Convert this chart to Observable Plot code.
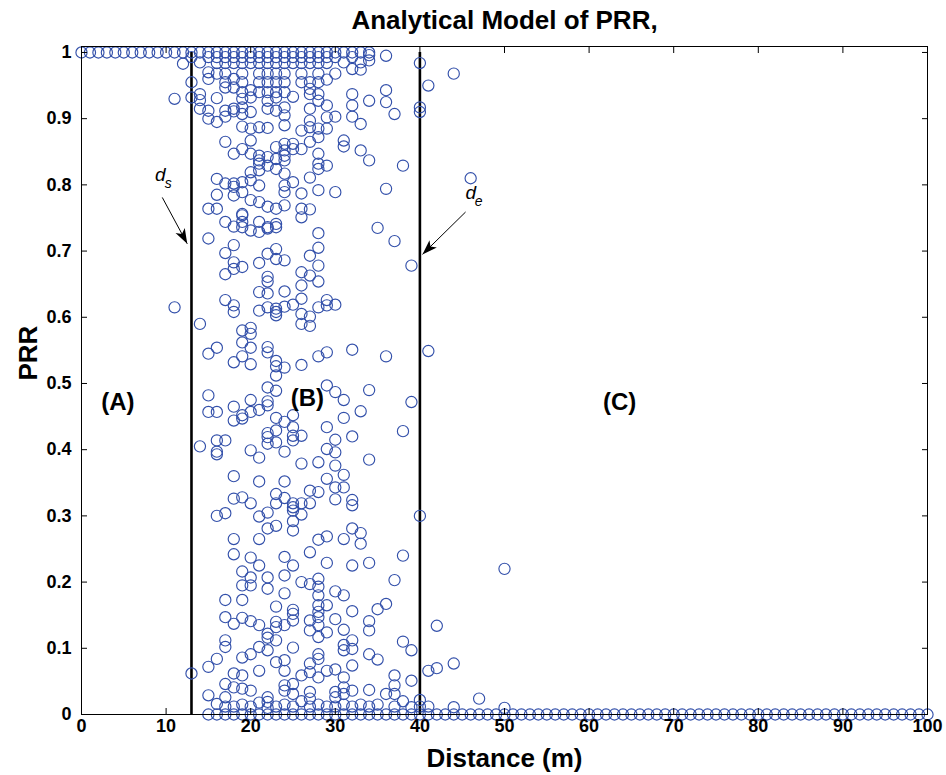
<!DOCTYPE html>
<html><head><meta charset="utf-8">
<script src="https://cdn.jsdelivr.net/npm/d3@7"></script>
<script src="https://cdn.jsdelivr.net/npm/@observablehq/plot@0.6"></script>
<style>body{margin:0;background:#fff;} #chart{width:946px;height:775px;}</style>
</head><body><div id="chart"></div>
<script>
// ---- data ----
const titleText = "Analytical Model of PRR,";
const xLabel = "Distance (m)";
const yLabel = "PRR";
const xTicks = [0, 10, 20, 30, 40, 50, 60, 70, 80, 90, 100];
const yTicks = [0, 0.1, 0.2, 0.3, 0.4, 0.5, 0.6, 0.7, 0.8, 0.9, 1];
const yTickLabels = ["0", "0.1", "0.2", "0.3", "0.4", "0.5", "0.6", "0.7", "0.8", "0.9", "1"];

// distances where PRR = 1
const prrOneDistances = [0,1,2,3,4,5,6,7,8,9,10,11,12,13,14,15,16,17,18,19,20,21,22,23,24,25,26,27,28,29,30,31,32,33,34];
// distances where PRR = 0
const prrZeroDistances = [15,16,17,18,19,20,21,22,23,24,25,26,27,28,29,30,31,32,33,34,35,36,37,38,39,40,41,42,43,44,45,46,47,48,49,50,51,52,53,54,55,56,57,58,59,60,61,62,63,64,65,66,67,68,69,70,71,72,73,74,75,76,77,78,79,80,81,82,83,84,85,86,87,88,89,90,91,92,93,94,95,96,97,98,99,100];

// other PRR samples per distance
const prr11 = [0.93, 0.615];
const prr12 = [0.983];
const prr13 = [0.993, 0.955, 0.932, 0.062];
const prr14 = [0.985, 0.937, 0.928, 0.915, 0.59, 0.405];
const prr15 = [0.993, 0.970, 0.960, 0.912, 0.900, 0.764, 0.719, 0.545, 0.482, 0.457, 0.072, 0.029];
const prr16 = [0.993, 0.984, 0.968, 0.931, 0.895, 0.809, 0.785, 0.764, 0.554, 0.457, 0.414, 0.397, 0.393, 0.300, 0.084, 0.016];
const prr17 = [0.993, 0.984, 0.968, 0.955, 0.947, 0.912, 0.903, 0.865, 0.802, 0.744, 0.697, 0.665, 0.626, 0.414, 0.304, 0.173, 0.147, 0.112, 0.102, 0.046, 0.026, 0.012];
const prr18 = [0.993, 0.984, 0.960, 0.947, 0.915, 0.911, 0.847, 0.802, 0.797, 0.784, 0.737, 0.709, 0.683, 0.673, 0.618, 0.608, 0.532, 0.465, 0.444, 0.360, 0.326, 0.265, 0.242, 0.137, 0.062, 0.041, 0.012];
const prr19 = [0.993, 0.984, 0.968, 0.955, 0.940, 0.930, 0.917, 0.907, 0.888, 0.854, 0.804, 0.789, 0.756, 0.754, 0.744, 0.736, 0.676, 0.580, 0.562, 0.541, 0.452, 0.447, 0.328, 0.216, 0.195, 0.173, 0.146, 0.086, 0.059, 0.039, 0.015];
const prr20 = [0.993, 0.984, 0.943, 0.932, 0.910, 0.885, 0.867, 0.847, 0.819, 0.807, 0.777, 0.731, 0.584, 0.575, 0.554, 0.529, 0.475, 0.457, 0.399, 0.319, 0.237, 0.207, 0.195, 0.141, 0.091, 0.036, 0.012];
const prr21 = [0.993, 0.984, 0.968, 0.955, 0.940, 0.887, 0.844, 0.837, 0.832, 0.822, 0.799, 0.774, 0.744, 0.729, 0.682, 0.638, 0.610, 0.460, 0.388, 0.352, 0.299, 0.265, 0.225, 0.135, 0.102, 0.066, 0.018];
const prr22 = [0.993, 0.984, 0.968, 0.955, 0.940, 0.927, 0.915, 0.886, 0.842, 0.829, 0.767, 0.736, 0.734, 0.696, 0.661, 0.654, 0.636, 0.615, 0.555, 0.547, 0.494, 0.473, 0.467, 0.425, 0.419, 0.409, 0.305, 0.281, 0.207, 0.190, 0.122, 0.116, 0.097, 0.026, 0.019, 0.010];
const prr23 = [0.993, 0.984, 0.968, 0.955, 0.940, 0.932, 0.912, 0.857, 0.839, 0.824, 0.764, 0.741, 0.736, 0.703, 0.688, 0.613, 0.608, 0.603, 0.534, 0.526, 0.512, 0.489, 0.448, 0.429, 0.411, 0.333, 0.319, 0.285, 0.163, 0.140, 0.132, 0.112, 0.079, 0.012];
const prr24 = [0.993, 0.984, 0.968, 0.955, 0.940, 0.917, 0.905, 0.890, 0.862, 0.852, 0.844, 0.837, 0.817, 0.799, 0.789, 0.769, 0.686, 0.639, 0.616, 0.524, 0.442, 0.397, 0.352, 0.327, 0.238, 0.210, 0.183, 0.135, 0.082, 0.066, 0.044, 0.036, 0.015];
const prr25 = [0.993, 0.984, 0.933, 0.862, 0.854, 0.804, 0.619, 0.452, 0.434, 0.421, 0.414, 0.319, 0.313, 0.308, 0.292, 0.278, 0.225, 0.158, 0.152, 0.142, 0.101, 0.046, 0.031, 0.012];
const prr26 = [0.993, 0.984, 0.968, 0.955, 0.882, 0.854, 0.787, 0.764, 0.751, 0.668, 0.648, 0.628, 0.605, 0.590, 0.528, 0.421, 0.379, 0.319, 0.302, 0.200, 0.059, 0.020];
const prr27 = [0.993, 0.984, 0.955, 0.945, 0.937, 0.915, 0.897, 0.887, 0.865, 0.811, 0.763, 0.693, 0.663, 0.601, 0.587, 0.338, 0.319, 0.245, 0.197, 0.142, 0.127, 0.077, 0.064, 0.034, 0.024, 0.012];
const prr28 = [0.993, 0.984, 0.968, 0.955, 0.937, 0.927, 0.885, 0.872, 0.847, 0.832, 0.824, 0.792, 0.727, 0.705, 0.678, 0.654, 0.615, 0.541, 0.381, 0.336, 0.264, 0.205, 0.193, 0.180, 0.165, 0.155, 0.147, 0.135, 0.117, 0.091, 0.084, 0.056, 0.015];
const prr29 = [0.993, 0.984, 0.959, 0.920, 0.902, 0.885, 0.829, 0.626, 0.618, 0.547, 0.497, 0.434, 0.401, 0.356, 0.269, 0.229, 0.165, 0.124, 0.066, 0.012];
const prr30 = [0.993, 0.968, 0.903, 0.789, 0.619, 0.487, 0.415, 0.396, 0.376, 0.343, 0.325, 0.186, 0.144, 0.068, 0.034, 0.026, 0.012];
const prr31 = [0.985, 0.867, 0.858, 0.475, 0.448, 0.362, 0.343, 0.265, 0.180, 0.128, 0.105, 0.097, 0.056, 0.041, 0.031, 0.015];
const prr32 = [0.993, 0.975, 0.937, 0.920, 0.903, 0.551, 0.420, 0.324, 0.316, 0.281, 0.225, 0.156, 0.112, 0.099, 0.074, 0.036, 0.012];
const prr33 = [0.985, 0.974, 0.892, 0.852, 0.458, 0.274, 0.258, 0.015];
const prr34 = [0.996, 0.988, 0.927, 0.837, 0.490, 0.385, 0.229, 0.141, 0.127, 0.091, 0.037, 0.012];
const prr35 = [0.735, 0.159, 0.083, 0.015];
const prr36 = [0.995, 0.943, 0.925, 0.794, 0.541, 0.167, 0.031];
const prr37 = [0.907, 0.715, 0.203, 0.059, 0.044, 0.031, 0.012];
const prr38 = [0.829, 0.428, 0.240, 0.110, 0.020];
const prr39 = [0.678, 0.472, 0.097, 0.051, 0.011];
const prr40 = [0.984, 0.917, 0.910, 0.300, 0.022, 0.012];
const prr41 = [0.950, 0.549, 0.066, 0.012];
const prr42 = [0.134, 0.070];
const prr44 = [0.968, 0.077, 0.011];
const prr46 = [0.810];
const prr47 = [0.024];
const prr50 = [0.220, 0.010];

const columnDistances = [11,12,13,14,15,16,17,18,19,20,21,22,23,24,25,26,27,28,29,30,31,32,33,34,35,36,37,38,39,40,41,42,44,46,47,50];
const columnValues = [prr11,prr12,prr13,prr14,prr15,prr16,prr17,prr18,prr19,prr20,prr21,prr22,prr23,prr24,prr25,prr26,prr27,prr28,prr29,prr30,prr31,prr32,prr33,prr34,prr35,prr36,prr37,prr38,prr39,prr40,prr41,prr42,prr44,prr46,prr47,prr50];

// boundaries d_s and d_e
const boundaryDistances = [13, 40];

// annotations
const regionNames = ["(A)", "(B)", "(C)"];
const regionX = [4.3, 26.7, 63.6];
const regionY = [0.471, 0.477, 0.471];
const boundarySubscripts = ["s", "e"];
const boundaryLabelX = [9.3, 46.0];
const boundaryLabelY = [0.815, 0.788];
const arrowFromX = [9.55, 45.4];
const arrowFromY = [0.781, 0.759];
const arrowToX = [12.5, 40.3];
const arrowToY = [0.711, 0.695];

// ---- build tables ----
const points = [];
prrOneDistances.forEach(x => points.push({x, y: 1}));
prrZeroDistances.forEach(x => points.push({x, y: 0}));
columnDistances.forEach((x, i) => columnValues[i].forEach(y => points.push({x, y})));

const regions = regionNames.map((t, i) => ({t, x: regionX[i], y: regionY[i]}));
const boundaryLabels = boundarySubscripts.map((s, i) => ({s, x: boundaryLabelX[i], y: boundaryLabelY[i]}));
const arrows = arrowFromX.map((x1, i) => ({x1, y1: arrowFromY[i], x2: arrowToX[i], y2: arrowToY[i]}));

const font = "'Liberation Sans', Arial, Helvetica, sans-serif";
const blue = "#3350aa";

function filledArrow(color) {
  const m = d3.create("svg:marker")
    .attr("viewBox", "-12 -6 12 12")
    .attr("markerWidth", 15).attr("markerHeight", 15)
    .attr("markerUnits", "userSpaceOnUse")
    .attr("refX", 0).attr("refY", 0)
    .attr("orient", "auto");
  m.append("path").attr("d", "M-12,-4.2L0,0L-12,4.2L-9,0Z").attr("fill", color).attr("stroke", "none");
  return m.node();
}

const chart = Plot.plot({
  width: 946,
  height: 775,
  marginLeft: 81,
  marginRight: 19,
  marginTop: 46,
  marginBottom: 61,
  style: {fontFamily: font, background: "white", color: "black"},
  x: {domain: [0, 100]},
  y: {domain: [0, 1.009]},
  marks: [
    Plot.ruleX(boundaryDistances, {x: d => d, y1: 0, y2: 1, stroke: "black", strokeWidth: 2.6}),
    Plot.dot(points, {x: "x", y: "y", r: 5.6, stroke: blue, strokeWidth: 1.15, fill: "none"}),
    Plot.frame({stroke: "black", strokeWidth: 1}),
    Plot.axisX({ticks: xTicks, tickSize: 0, tickPadding: 5, fontSize: 18, fontWeight: "bold", label: null, tickFormat: d => String(d)}),
    Plot.axisX({ticks: xTicks, tickSize: -6, tickFormat: () => "", label: null}),
    Plot.axisX({anchor: "top", ticks: xTicks, tickSize: -6, tickFormat: () => "", label: null}),
    Plot.axisY({ticks: yTicks, tickSize: 0, tickPadding: 10, fontSize: 18, fontWeight: "bold", label: null, tickFormat: d => yTickLabels[yTicks.indexOf(d)]}),
    Plot.axisY({ticks: yTicks, tickSize: -6, tickFormat: () => "", label: null}),
    Plot.axisY({anchor: "right", ticks: yTicks, tickSize: -6, tickFormat: () => "", label: null}),
    Plot.text(regions, {x: "x", y: "y", text: "t", fontSize: 24, fontWeight: "bold", fill: "black"}),
    Plot.link(arrows, {x1: "x1", y1: "y1", x2: "x2", y2: "y2", stroke: "black", strokeWidth: 1, markerEnd: filledArrow}),
    Plot.text(boundaryLabels, {x: "x", y: "y", text: () => "d", fontSize: 19, fontStyle: "italic", fill: "black"}),
    Plot.text(boundaryLabels, {x: "x", y: "y", text: "s", fontSize: 14, fontStyle: "italic", fill: "black", dx: 8, dy: 9}),
    Plot.text([titleText], {frameAnchor: "top", lineAnchor: "middle", text: d => d, dy: -26, fontSize: 26, fontWeight: "bold", fill: "black"}),
    Plot.text([xLabel], {frameAnchor: "bottom", lineAnchor: "middle", text: d => d, dy: 44, fontSize: 26, fontWeight: "bold", fill: "black"}),
    Plot.text([yLabel], {frameAnchor: "left", lineAnchor: "middle", text: d => d, dx: -53, rotate: -90, fontSize: 26, fontWeight: "bold", fill: "black"})
  ]
});
document.getElementById("chart").appendChild(chart);
</script></body></html>
